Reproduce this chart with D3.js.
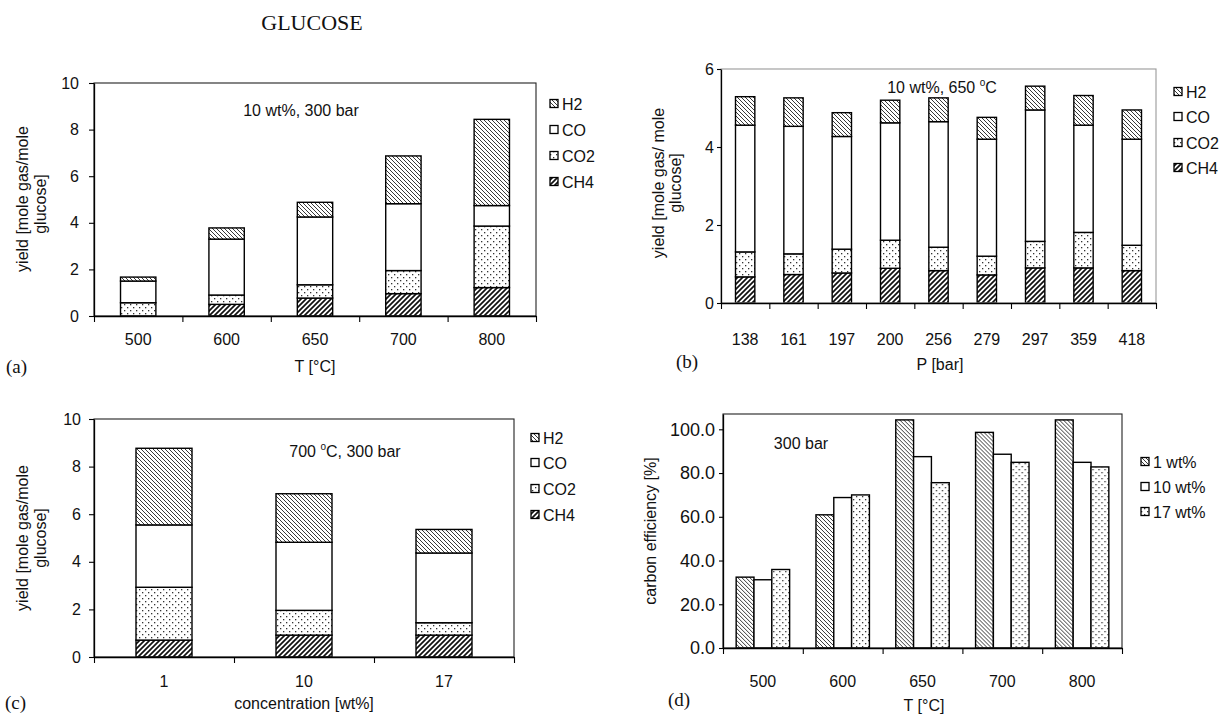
<!DOCTYPE html>
<html>
<head>
<meta charset="utf-8">
<script src="https://cdn.jsdelivr.net/npm/d3@7"></script>
<style>
  body { margin: 0; background: #fff; }
  svg { display: block; }
  text { font-family: "Liberation Sans", Arial, Helvetica, sans-serif; fill: #111; }
  .serif { font-family: "Liberation Serif", "Times New Roman", serif; }
</style>
</head>
<body>
<svg id="chart" width="1222" height="715"></svg>
<script>
// ---- data -------------------------------------------------------------
// stacking order, bottom to top
const stackKeys = ["CH4", "CO2", "CO", "H2"];
// legend order, top to bottom
const legendKeys = ["H2", "CO", "CO2", "CH4"];

// (a) yields vs temperature, 10 wt%, 300 bar
const tempLabels = ["500", "600", "650", "700", "800"];
const aCH4 = [0.00, 0.50, 0.77, 0.96, 1.22];
const aCO2 = [0.57, 0.40, 0.57, 0.99, 2.64];
const aCO  = [0.93, 2.40, 2.91, 2.87, 0.88];
const aH2  = [0.17, 0.48, 0.63, 2.05, 3.70];

// (b) yields vs pressure, 10 wt%, 650 °C
const pressureLabels = ["138", "161", "197", "200", "256", "279", "297", "359", "418"];
const bCH4 = [0.67, 0.73, 0.77, 0.89, 0.83, 0.72, 0.90, 0.90, 0.83];
const bCO2 = [0.64, 0.53, 0.61, 0.72, 0.60, 0.48, 0.68, 0.91, 0.65];
const bCO  = [3.25, 3.27, 2.89, 3.01, 3.22, 3.00, 3.37, 2.75, 2.72];
const bH2  = [0.73, 0.73, 0.61, 0.58, 0.61, 0.56, 0.61, 0.76, 0.75];

// (c) yields vs feed concentration, 700 °C, 300 bar
const concLabels = ["1", "10", "17"];
const cCH4 = [0.71, 0.92, 0.92];
const cCO2 = [2.22, 1.04, 0.52];
const cCO  = [2.62, 2.86, 2.93];
const cH2  = [3.22, 2.04, 0.99];

// (d) carbon efficiency vs temperature, 300 bar
const effSeries = ["1 wt%", "10 wt%", "17 wt%"];
const eff1  = [32.4, 60.9, 104.3, 98.6, 104.3];
const eff10 = [31.2, 68.8, 87.5, 88.6, 84.9];
const eff17 = [35.9, 70.0, 75.6, 84.9, 82.8];

// axis ticks
const yieldTicks10 = [0, 2, 4, 6, 8, 10];
const yieldTicks6 = [0, 2, 4, 6];
const effTicks = [0, 20, 40, 60, 80, 100];

// ---- drawing ----------------------------------------------------------
const svg = d3.select("#chart");
const FONT = 16;

// fill patterns
const defs = svg.append("defs");
function hatch(id, size, d, width, color) {
  const p = defs.append("pattern").attr("id", id)
    .attr("patternUnits", "userSpaceOnUse").attr("width", size).attr("height", size);
  p.append("rect").attr("width", size).attr("height", size).attr("fill", "#fff");
  p.append("path").attr("d", d).attr("stroke", color).attr("stroke-width", width).attr("fill", "none");
}
// back-slanted thin hatch
hatch("hatchBack", 4, "M-1,-1L5,5M-1,3L1,5M3,-1L5,1", 0.9, "#222");
// forward-slanted heavy hatch
hatch("hatchFwd", 5, "M-1,6L6,-1M-1,1L1,-1M4,6L6,4", 1.7, "#111");
// sparse dots
(function () {
  const p = defs.append("pattern").attr("id", "dots")
    .attr("patternUnits", "userSpaceOnUse").attr("width", 6).attr("height", 6);
  p.append("rect").attr("width", 6).attr("height", 6).attr("fill", "#fff");
  p.append("rect").attr("x", 1).attr("y", 1).attr("width", 1.3).attr("height", 1.3).attr("fill", "#333");
  p.append("rect").attr("x", 4).attr("y", 4).attr("width", 1.3).attr("height", 1.3).attr("fill", "#333");
})();

const gasFill = { H2: "url(#hatchBack)", CO: "#fff", CO2: "url(#dots)", CH4: "url(#hatchFwd)" };
const effFill = ["url(#hatchBack)", "#fff", "url(#dots)"];

function styleAxis(g, size) {
  g.attr("font-size", null).attr("font-family", null);
  g.select(".domain").attr("stroke", "#000").attr("stroke-width", 1.3);
  g.selectAll(".tick line").attr("stroke", "#000").attr("stroke-width", 1.1);
  g.selectAll(".tick text").attr("font-size", size).attr("fill", "#111");
}

function addText(parent, x, y, str, opts = {}) {
  const t = parent.append("text")
    .attr("x", x).attr("y", y)
    .attr("font-size", opts.size || FONT)
    .attr("text-anchor", opts.anchor || "middle");
  if (opts.cls) t.attr("class", opts.cls);
  if (opts.rotate) t.attr("transform", `rotate(-90,${x},${y})`);
  t.text(str);
  return t;
}

// text with a raised small "o" for the degree sign
function addDegreeText(parent, x, y, before, after) {
  const t = parent.append("text").attr("x", x).attr("y", y)
    .attr("font-size", FONT).attr("text-anchor", "middle");
  t.append("tspan").text(before);
  t.append("tspan").attr("font-size", 10).attr("dy", -7).text("o");
  t.append("tspan").attr("dy", 7).text(after);
  return t;
}

function legend(parent, x, ys, keys, fills) {
  keys.forEach((k, i) => {
    parent.append("rect").attr("x", x).attr("y", ys[i] - 4.5)
      .attr("width", 8).attr("height", 8)
      .attr("fill", fills[i]).attr("stroke", "#000").attr("stroke-width", 1.3);
    addText(parent, x + 12, ys[i] + 5.5, k, { anchor: "start" });
  });
}

// frame, axes and category labels shared by all panels
function panelFrame(g, cfg, x, y) {
  g.append("rect")
    .attr("x", cfg.x0).attr("y", cfg.y0)
    .attr("width", cfg.x1 - cfg.x0).attr("height", cfg.y1 - cfg.y0)
    .attr("fill", "none").attr("stroke", cfg.frame).attr("stroke-width", 1.1);

  const ya = g.append("g").attr("transform", `translate(${cfg.x0},0)`)
    .call(d3.axisLeft(y).tickValues(cfg.yticks).tickSize(cfg.ytick).tickSizeOuter(0)
      .tickPadding(cfg.ypad).tickFormat(cfg.yfmt));
  styleAxis(ya, cfg.ysize || FONT);

  // tick marks on the category boundaries
  const n = x.domain().length;
  const xb = d3.scaleLinear().domain([0, n]).range([cfg.x0, cfg.x1]);
  const xa = g.append("g").attr("transform", `translate(0,${cfg.y1})`)
    .call(d3.axisBottom(xb).tickValues(d3.range(n + 1)).tickSize(6).tickSizeOuter(0).tickFormat(""));
  styleAxis(xa, FONT);

  // category labels at the band centres
  const xl = g.append("g").attr("transform", `translate(0,${cfg.y1})`)
    .call(d3.axisBottom(x).tickSize(0).tickPadding(cfg.xpad));
  xl.select(".domain").remove();
  styleAxis(xl, FONT);
}

function stackedPanel(cfg) {
  const g = svg.append("g");
  const x = d3.scaleBand().domain(cfg.cats).range([cfg.x0, cfg.x1])
    .paddingInner(0.6).paddingOuter(0.3);
  const y = d3.scaleLinear().domain([0, cfg.ymax]).range([cfg.y1, cfg.y0]);

  const rows = cfg.cats.map((c, i) => {
    const r = { cat: c };
    stackKeys.forEach(k => { r[k] = cfg.series[k][i]; });
    return r;
  });
  const layers = d3.stack().keys(stackKeys)(rows);

  g.append("rect")
    .attr("x", cfg.x0).attr("y", cfg.y0)
    .attr("width", cfg.x1 - cfg.x0).attr("height", cfg.y1 - cfg.y0)
    .attr("fill", "#fff");

  g.selectAll("g.layer").data(layers).join("g").attr("class", "layer")
    .attr("fill", d => gasFill[d.key])
    .selectAll("rect").data(d => d).join("rect")
    .attr("x", d => x(d.data.cat))
    .attr("y", d => y(d[1]))
    .attr("width", x.bandwidth())
    .attr("height", d => y(d[0]) - y(d[1]))
    .attr("stroke", "#000").attr("stroke-width", 1.4);

  panelFrame(g, cfg, x, y);
  legend(g, cfg.legX, cfg.legY, legendKeys, legendKeys.map(k => gasFill[k]));
  return g;
}

// ---- title ----
addText(svg, 312, 30, "GLUCOSE", { size: 22, cls: "serif" });

// ---- (a) ----
const ga = stackedPanel({
  x0: 94, x1: 536, y0: 83, y1: 316, ymax: 10, yticks: yieldTicks10,
  ytick: 5, ypad: 10, yfmt: d3.format("d"), xpad: 18, frame: "#222",
  cats: tempLabels, series: { CH4: aCH4, CO2: aCO2, CO: aCO, H2: aH2 },
  legX: 550, legY: [104, 130, 156, 182]
});
addText(ga, 301, 116, "10 wt%, 300 bar");
addText(ga, 315, 372, "T [°C]");
addText(ga, 28, 199, "yield [mole gas/mole", { rotate: true });
addText(ga, 46, 204, "glucose]", { rotate: true });
addText(ga, 6, 373, "(a)", { size: 19, cls: "serif", anchor: "start" });

// ---- (b) ----
const gb = stackedPanel({
  x0: 721, x1: 1156, y0: 69, y1: 303, ymax: 6, yticks: yieldTicks6,
  ytick: 4, ypad: 3, yfmt: d3.format("d"), xpad: 31, frame: "#999",
  cats: pressureLabels, series: { CH4: bCH4, CO2: bCO2, CO: bCO, H2: bH2 },
  legX: 1174, legY: [92, 117, 143, 168]
});
addDegreeText(gb, 942, 93, "10 wt%, 650 ", "C");
addText(gb, 940, 370, "P [bar]");
addText(gb, 664, 183, "yield [mole gas/ mole", { rotate: true });
addText(gb, 681, 183, "glucose]", { rotate: true });
addText(gb, 676, 368, "(b)", { size: 19, cls: "serif", anchor: "start" });

// ---- (c) ----
const gc = stackedPanel({
  x0: 94, x1: 514, y0: 419, y1: 657, ymax: 10, yticks: yieldTicks10,
  ytick: 5, ypad: 8, yfmt: d3.format("d"), xpad: 19, frame: "#222",
  cats: concLabels, series: { CH4: cCH4, CO2: cCO2, CO: cCO, H2: cH2 },
  legX: 531, legY: [438, 463, 489, 515]
});
addDegreeText(gc, 345, 457, "700 ", "C, 300 bar");
addText(gc, 304, 709, "concentration [wt%]");
addText(gc, 28, 538, "yield [mole gas/mole", { rotate: true });
addText(gc, 46, 538, "glucose]", { rotate: true });
addText(gc, 5, 709, "(c)", { size: 19, cls: "serif", anchor: "start" });

// ---- (d) grouped bars ----
(function () {
  const cfg = {
    x0: 723, x1: 1122, y0: 414, y1: 648, ymax: 107, yticks: effTicks,
    ytick: 4, ypad: 4, yfmt: d3.format(".1f"), xpad: 28, frame: "#222", ysize: 18
  };
  const g = svg.append("g");
  const x = d3.scaleBand().domain(tempLabels).range([cfg.x0, cfg.x1])
    .paddingInner(0.33).paddingOuter(0.165);
  const xs = d3.scaleBand().domain(effSeries).range([0, x.bandwidth()]);
  const y = d3.scaleLinear().domain([0, cfg.ymax]).range([cfg.y1, cfg.y0]);
  const values = [eff1, eff10, eff17];

  g.append("rect").attr("x", cfg.x0).attr("y", cfg.y0)
    .attr("width", cfg.x1 - cfg.x0).attr("height", cfg.y1 - cfg.y0).attr("fill", "#fff");

  const rows = tempLabels.map((t, i) => ({
    t, bars: effSeries.map((s, j) => ({ s, j, v: values[j][i] }))
  }));
  g.selectAll("g.grp").data(rows).join("g").attr("class", "grp")
    .attr("transform", d => `translate(${x(d.t)},0)`)
    .selectAll("rect").data(d => d.bars).join("rect")
    .attr("x", d => xs(d.s))
    .attr("y", d => y(d.v))
    .attr("width", xs.bandwidth())
    .attr("height", d => y(0) - y(d.v))
    .attr("fill", d => effFill[d.j])
    .attr("stroke", "#000").attr("stroke-width", 1.4);

  panelFrame(g, cfg, x, y);
  legend(g, 1141, [462, 487, 512], effSeries, effFill);
  addText(g, 801, 449, "300 bar");
  addText(g, 924, 711, "T [°C]");
  addText(g, 656, 531, "carbon efficiency [%]", { rotate: true });
  addText(g, 668, 706, "(d)", { size: 19, cls: "serif", anchor: "start" });
})();
</script>
</body>
</html>
